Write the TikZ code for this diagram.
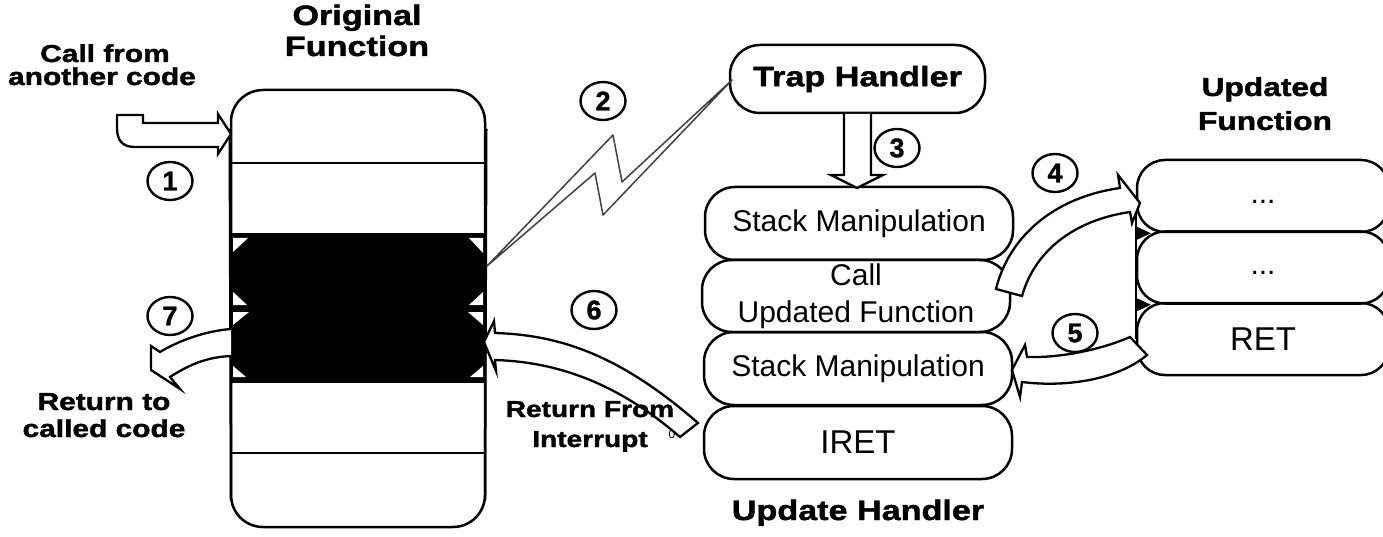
\documentclass[tikz,border=0pt]{standalone}
\usepackage{fontspec}
\setmainfont{Liberation Sans}
\newfontfamily\blk{Liberation Sans}[FakeStretch=1.22,FakeBold=1.6]
\newfontfamily\nmf{Liberation Sans}[FakeBold=1.2]
\usetikzlibrary{shapes.geometric}
\begin{document}
\begin{tikzpicture}[x=1pt,y=-1pt,line join=round,
  box/.style={draw,line width=2.5pt,rounded corners=30pt,inner sep=0pt},
  stk/.style={box,minimum width=308pt,minimum height=73pt,font=\fontsize{30}{37}\selectfont,align=center},
  ufn/.style={box,rounded corners=28pt,minimum width=252pt,minimum height=72pt,font=\fontsize{30}{36}\selectfont},
  num/.style={draw,ellipse,line width=2.4pt,minimum width=45pt,minimum height=38pt,inner sep=0pt,font=\nmf\bfseries\fontsize{27}{27}\selectfont},
  blockarrow/.style={draw,fill=white,line width=2.3pt,line join=miter},
  ttl/.style={font=\blk\bfseries\fontsize{28}{31}\selectfont,anchor=base,inner sep=0pt},
  lab/.style={font=\blk\bfseries\fontsize{24.5}{27}\selectfont,anchor=base,inner sep=0pt},
  notch/.style={fill=white}
]
\useasboundingbox (0,0) rectangle (1383,537);
\clip (0,0) rectangle (1383,537);

% ---------- Original function ----------
\node[box,rounded corners=32pt,minimum width=254pt,minimum height=437pt] (orig) at (358,308.5) {};
\fill (231,233) rectangle (485,383);
\fill[notch] (233,238) -- (248,238) -- (233,252) -- cycle;
\fill[notch] (483,238) -- (469,238) -- (483,253) -- cycle;
\fill[notch] (233,292) -- (233,305) -- (247,305) -- cycle;
\fill[notch] (483,292) -- (483,305) -- (469,305) -- cycle;
\fill[notch] (233,312) -- (249,312) -- (233,325) -- cycle;
\fill[notch] (483,312) -- (468,312) -- (483,325) -- cycle;
\fill[notch] (233,366) -- (233,377) -- (246,377) -- cycle;
\fill[notch] (483,366) -- (483,377) -- (470,377) -- cycle;
\draw[line width=2.5pt] (231,163) -- (485,163);
\draw[line width=2.5pt] (231,453) -- (485,453);
\draw[line width=2.5pt] (orig.north west) ++(0,40) -- (231,500);
\draw[line width=2.5pt] (orig.north east) ++(0,40) -- (485,500);

% ---------- Trap handler / update handler ----------
\node[box,minimum width=255pt,minimum height=68pt,font=\blk\bfseries\fontsize{28}{31}\selectfont] (trap) at (857.5,79) {Trap Handler};
\node[stk] (sm1) at (859,223.5) {Stack Manipulation};
\node[stk,minimum height=72pt] (call) at (856,296) {Call\\Updated Function};
\node[stk] (sm2) at (858,368.5) {Stack Manipulation};
\node[stk,font=\fontsize{33}{36}\selectfont] (iret) at (858,442.5) {IRET};
\node[ttl] (uh) at (858,520) {Update Handler};

% ---------- Updated function ----------
\node[ufn] (u1) at (1263,196) {...\vphantom{Ap}};
\node[ufn] (u2) at (1263,267.5) {...\vphantom{Ap}};
\node[ufn,font=\fontsize{33}{36}\selectfont] (u3) at (1263,339) {RET};
\draw[line width=2.5pt] (u1.west) -- (u3.west);
\fill (u1.south west) ++(0,-7) -- ++(15,7) -- ++(-15,7) -- cycle;
\fill (u2.south west) ++(0,-7) -- ++(15,7) -- ++(-15,7) -- cycle;
\node[ttl,font=\blk\bfseries\fontsize{26}{28}\selectfont] (uft1) at (1265,96) {Updated};
\node[ttl,font=\blk\bfseries\fontsize{26}{28}\selectfont] (uft2) at (1265,130) {Function};

% ---------- block arrows ----------
% 1
\draw[blockarrow] (117,115) -- (143,115) -- (143,123) -- (218,123) -- (218,114) -- (231,134)
  -- (218,154) -- (218,147) -- (135,147) .. controls (122,147) and (117,140) .. (117,128) -- cycle;
% 3
\draw[blockarrow] (844,114) -- (844,175) -- (831,175) -- (857,188) -- (883,175) -- (871,175) -- (871,114);
% 4
\draw[blockarrow] (996,289) .. controls (1008,240) and (1050,198) .. (1120,188) -- (1118,175)
  -- (1140,203) -- (1132,223) -- (1130,212) .. controls (1075,220) and (1035,250) .. (1022,296) -- cycle;
% 5
\draw[blockarrow] (1130,337) .. controls (1100,350) and (1060,358) .. (1027,357) -- (1025,345)
  -- (1012,370) -- (1020,397) -- (1022,382) .. controls (1070,388) and (1120,378) .. (1147,355) -- cycle;
% 6
\draw[blockarrow] (484,342) -- (494,321) -- (495,333) .. controls (560,335) and (620,355) .. (698,423)
  -- (680,437) .. controls (620,385) and (560,362) .. (495,360) -- (496,371) -- cycle;
% 7
\draw[blockarrow] (231,329) .. controls (205,331) and (178,341) .. (160,352) -- (151,346)
  -- (151,370) -- (180,389) -- (170,377) .. controls (190,364) and (208,357) .. (231,356);

% ---------- lightning (2) ----------
\draw[line width=1.5pt,black!75] (487,266) -- (613,135) -- (622,182) -- (732,80) -- (603,215) -- (595,173) -- cycle;

% ---------- step numbers ----------
\node[num] (n1) at (170,181) {1};
\node[num] (n2) at (603,101) {2};
\node[num] (n3) at (897,148) {3};
\node[num] (n4) at (1055,173) {4};
\node[num] (n5) at (1075,333) {5};
\node[num] (n6) at (594,310) {6};
\node[num] (n7) at (170,316) {7};

% ---------- labels ----------
\node[ttl] (of1) at (357,25) {Original};
\node[ttl] (of2) at (357,56) {Function};
\node[lab] (cf1) at (105,62) {Call from};
\node[lab] (cf2) at (102,85) {another code};
\node[lab] (rt1) at (104,410) {Return to};
\node[lab] (rt2) at (104,437) {called code};
\node[lab,font=\blk\bfseries\fontsize{23}{26}\selectfont] (rf1) at (590,417) {Return From};
\node[lab,font=\blk\bfseries\fontsize{23}{26}\selectfont] (rf2) at (590,447) {Interrupt};
\node[font=\fontsize{12}{12}\selectfont,inner sep=0pt] (zero) at (672,434) {0};
\end{tikzpicture}
\end{document}
